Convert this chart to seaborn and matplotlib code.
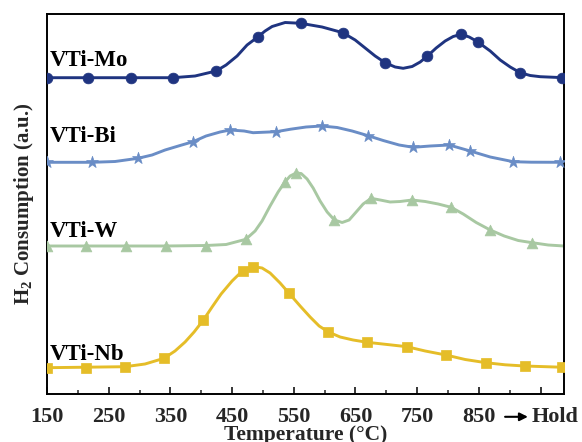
import numpy as np
import pandas as pd
import matplotlib
matplotlib.use("Agg")
import matplotlib.pyplot as plt
from matplotlib.ticker import FixedLocator
import seaborn as sns

# ---------------- data ----------------
# VTi-Mo
mo_curve_T = [150, 216.5, 286.2, 354.3, 390, 424.1, 440.3, 458.1, 474.3, 492.2, 503.5, 514.9,
              536, 561.4, 595.9, 629.5, 649.5, 665.7, 681.9, 698.1, 714.3, 727.3, 741.9, 754.9,
              766.7, 780.8, 795.4, 808.4, 821.4, 834.3, 847.8, 868.4, 884.6, 900.8, 917,
              933.2, 949.5, 988]
mo_curve_H = [316.3, 316.3, 316.3, 316.3, 318, 323, 329, 338, 349, 357.3, 363, 367.5,
              371.5, 370.7, 367, 361.3, 354, 346, 338, 331.3, 327, 325.7, 327.5, 332,
              338, 346, 353, 357.5, 359.7, 357, 352.3, 343, 334, 327, 321.3,
              318.5, 317.3, 316.3]
mo_mark_T = [150, 216.5, 286.2, 354.3, 424.1, 492.2, 561.4, 629.5, 698.1, 766.7, 821.4, 847.8, 917, 985]
mo_mark_H = [316.3, 316.3, 316.3, 316.3, 323, 357.3, 370.7, 361.3, 331.3, 338, 359.7, 352.3, 321.3, 316.3]

# VTi-Bi
bi_curve_T = [150, 223, 260.3, 297.6, 320.3, 341.4, 365.7, 386.8, 407.8, 430.5, 446.8, 469.5,
              484, 521.4, 544.9, 570, 595.5, 620.3, 644.6, 670.5, 694.9, 720.8, 743.5, 771.1,
              801.9, 835.9, 868.4, 905.7, 934.8, 988]
bi_curve_H = [231.7, 231.7, 232.5, 235.7, 239, 244, 248.5, 252.3, 258, 262, 264, 263,
              261.3, 262.3, 264.8, 267, 268, 266.5, 263, 258.3, 253.5, 249, 246.7, 248,
              249, 243, 237, 232.3, 231.8, 231.7]
bi_mark_T = [150, 223, 297.6, 386.8, 446.8, 521.4, 595.5, 670.5, 743.5, 801.9, 835.9, 905.7, 981.9]
bi_mark_H = [231.7, 231.7, 235.7, 252.3, 264, 262.3, 268, 258.3, 246.7, 249, 243, 232.3, 231.7]

# VTi-W
w_curve_T = [150, 343, 407.8, 440.3, 472.2, 487.3, 498.6, 511.6, 524.6, 536, 544.1, 553.8, 561.9,
             571.6, 581.4, 592.7, 604.1, 615.9, 628.4, 639.7, 651.1, 662.4, 675.4, 690, 706.2,
             722.4, 741.9, 763, 784.1, 805.1, 824.6, 845.7, 868.4, 891.1, 913.8, 936.5, 962.4, 988]
w_curve_H = [148, 148, 148.5, 149.5, 154.7, 163, 173, 188, 202, 212.3, 218, 221, 220.5,
             215, 206, 193, 182, 174, 171.5, 174, 182, 190, 195.7, 194, 192,
             192.5, 194, 192.5, 190, 186.7, 180, 171.5, 164, 158, 153.5, 151.3, 149, 148]
w_mark_T = [150, 213.2, 278.1, 343, 407.8, 472.2, 536, 553.8, 615.9, 675.4, 741.9, 805.1, 868.4, 936.5]
w_mark_H = [148, 148, 148, 148, 148.5, 154.7, 212.3, 220.7, 174, 195.7, 194, 186.7, 164, 151.3]

# VTi-Nb
nb_curve_T = [150, 276.5, 308.9, 339.7, 357.5, 373.8, 388.4, 403.5, 417.6, 432.2, 450, 467.4,
              483.5, 498.6, 511.6, 527.8, 542.4, 560.3, 576.5, 591.1, 606.2, 625.1, 646.2,
              668.9, 701.4, 733.3, 763, 796.5, 827.8, 861.4, 892.7, 924, 988]
nb_curve_H = [26.3, 27.3, 30, 35.7, 43, 52, 62, 74, 87, 100, 113, 123.5,
              127.5, 126, 121, 111, 100.7, 88, 77, 68, 62, 57, 54,
              51.7, 49.5, 47.3, 43, 39, 34.5, 31.3, 29.2, 28, 26.7]
nb_mark_T = [150, 213.2, 276.5, 339.7, 403.5, 467.4, 483.5, 542.4, 606.2, 668.9, 733.3, 796.5, 861.4, 924, 984.6]
nb_mark_H = [26.3, 26.3, 27.3, 35.7, 74, 123.5, 127.3, 100.7, 62, 51.7, 47.3, 39, 31.3, 28, 26.7]

labels = ["VTi-Mo", "VTi-Bi", "VTi-W", "VTi-Nb"]
tick_values = [150, 250, 350, 450, 550, 650, 750, 850, 950]
tick_labels = ["150", "250", "350", "450", "550", "650", "750", "850", ""]

# ---------------- style ----------------
sns.set_theme(style="white")
plt.rcParams["font.family"] = ["Liberation Serif", "DejaVu Serif"]
plt.rcParams["font.weight"] = "bold"
plt.rcParams["mathtext.fontset"] = "custom"
plt.rcParams["mathtext.rm"] = "Liberation Serif:bold"
plt.rcParams["mathtext.it"] = "Liberation Serif:bold"
plt.rcParams["mathtext.bf"] = "Liberation Serif:bold"
plt.rcParams["mathtext.default"] = "rm"

colors = {"VTi-Mo": "#1f3480", "VTi-Bi": "#6a8dc6", "VTi-W": "#a8c8a2", "VTi-Nb": "#e5bd28"}
markers = {"VTi-Mo": "o", "VTi-Bi": "*", "VTi-W": "^", "VTi-Nb": "s"}
msizes = {"VTi-Mo": 60, "VTi-Bi": 80, "VTi-W": 60, "VTi-Nb": 50}

curves = {
    "VTi-Mo": (mo_curve_T, mo_curve_H, mo_mark_T, mo_mark_H),
    "VTi-Bi": (bi_curve_T, bi_curve_H, bi_mark_T, bi_mark_H),
    "VTi-W": (w_curve_T, w_curve_H, w_mark_T, w_mark_H),
    "VTi-Nb": (nb_curve_T, nb_curve_H, nb_mark_T, nb_mark_H),
}
label_H = {"VTi-Mo": 333, "VTi-Bi": 257, "VTi-W": 162.5, "VTi-Nb": 39}

fig = plt.figure(figsize=(5.82, 4.42), dpi=100)
ax = fig.add_axes([47 / 582, 1 - 394 / 442, (564 - 47) / 582, (394 - 14) / 442])

for name in labels:
    cT, cH, mT, mH = curves[name]
    dfc = pd.DataFrame({"T": cT, "H": cH})
    dfm = pd.DataFrame({"T": mT, "H": mH})
    sns.lineplot(data=dfc, x="T", y="H", ax=ax, color=colors[name], lw=2.1,
                 sort=False, estimator=None)
    sns.scatterplot(data=dfm, x="T", y="H", ax=ax, color=colors[name],
                    marker=markers[name], s=msizes[name], edgecolor=colors[name],
                    linewidth=0.5, zorder=3)
    ax.text(155, label_H[name], name, fontsize=16.5, fontweight="bold",
            color="black", va="center", ha="left")

ax.set_xlim(150, 988)
ax.set_ylim(0, 380)
ax.set_yticks([])
ax.xaxis.set_major_locator(FixedLocator(tick_values))
ax.set_xticklabels(tick_labels)
ax.xaxis.set_minor_locator(FixedLocator([200, 300, 400, 500, 600, 700, 800, 900]))
ax.tick_params(axis="x", which="major", direction="in", length=5, width=1.3,
               labelsize=16, pad=9, bottom=True, top=False)
ax.tick_params(axis="x", which="minor", direction="in", length=3, width=1.1,
               bottom=True, top=False)
for lab in ax.get_xticklabels():
    lab.set_fontweight("bold")
for sp in ax.spines.values():
    sp.set_color("black")
    sp.set_linewidth(1.4)

ax.set_xlabel("Temperature (°C)", fontsize=15.5, fontweight="bold", labelpad=-1)
ax.set_ylabel("H$_2$ Consumption (a.u.)", fontsize=15, fontweight="bold", labelpad=8)

# arrow toward "Hold"
trans = ax.get_xaxis_transform()
ax.annotate("", xy=(934, -0.06), xytext=(888, -0.06), xycoords=trans, textcoords=trans,
            arrowprops=dict(arrowstyle="-|>", color="black", lw=1.5, mutation_scale=12),
            annotation_clip=False)
ax.text(936, -0.06, "Hold", transform=trans, fontsize=16, fontweight="bold",
        ha="left", va="center", clip_on=False)

fig.savefig("out.png", dpi=100)
